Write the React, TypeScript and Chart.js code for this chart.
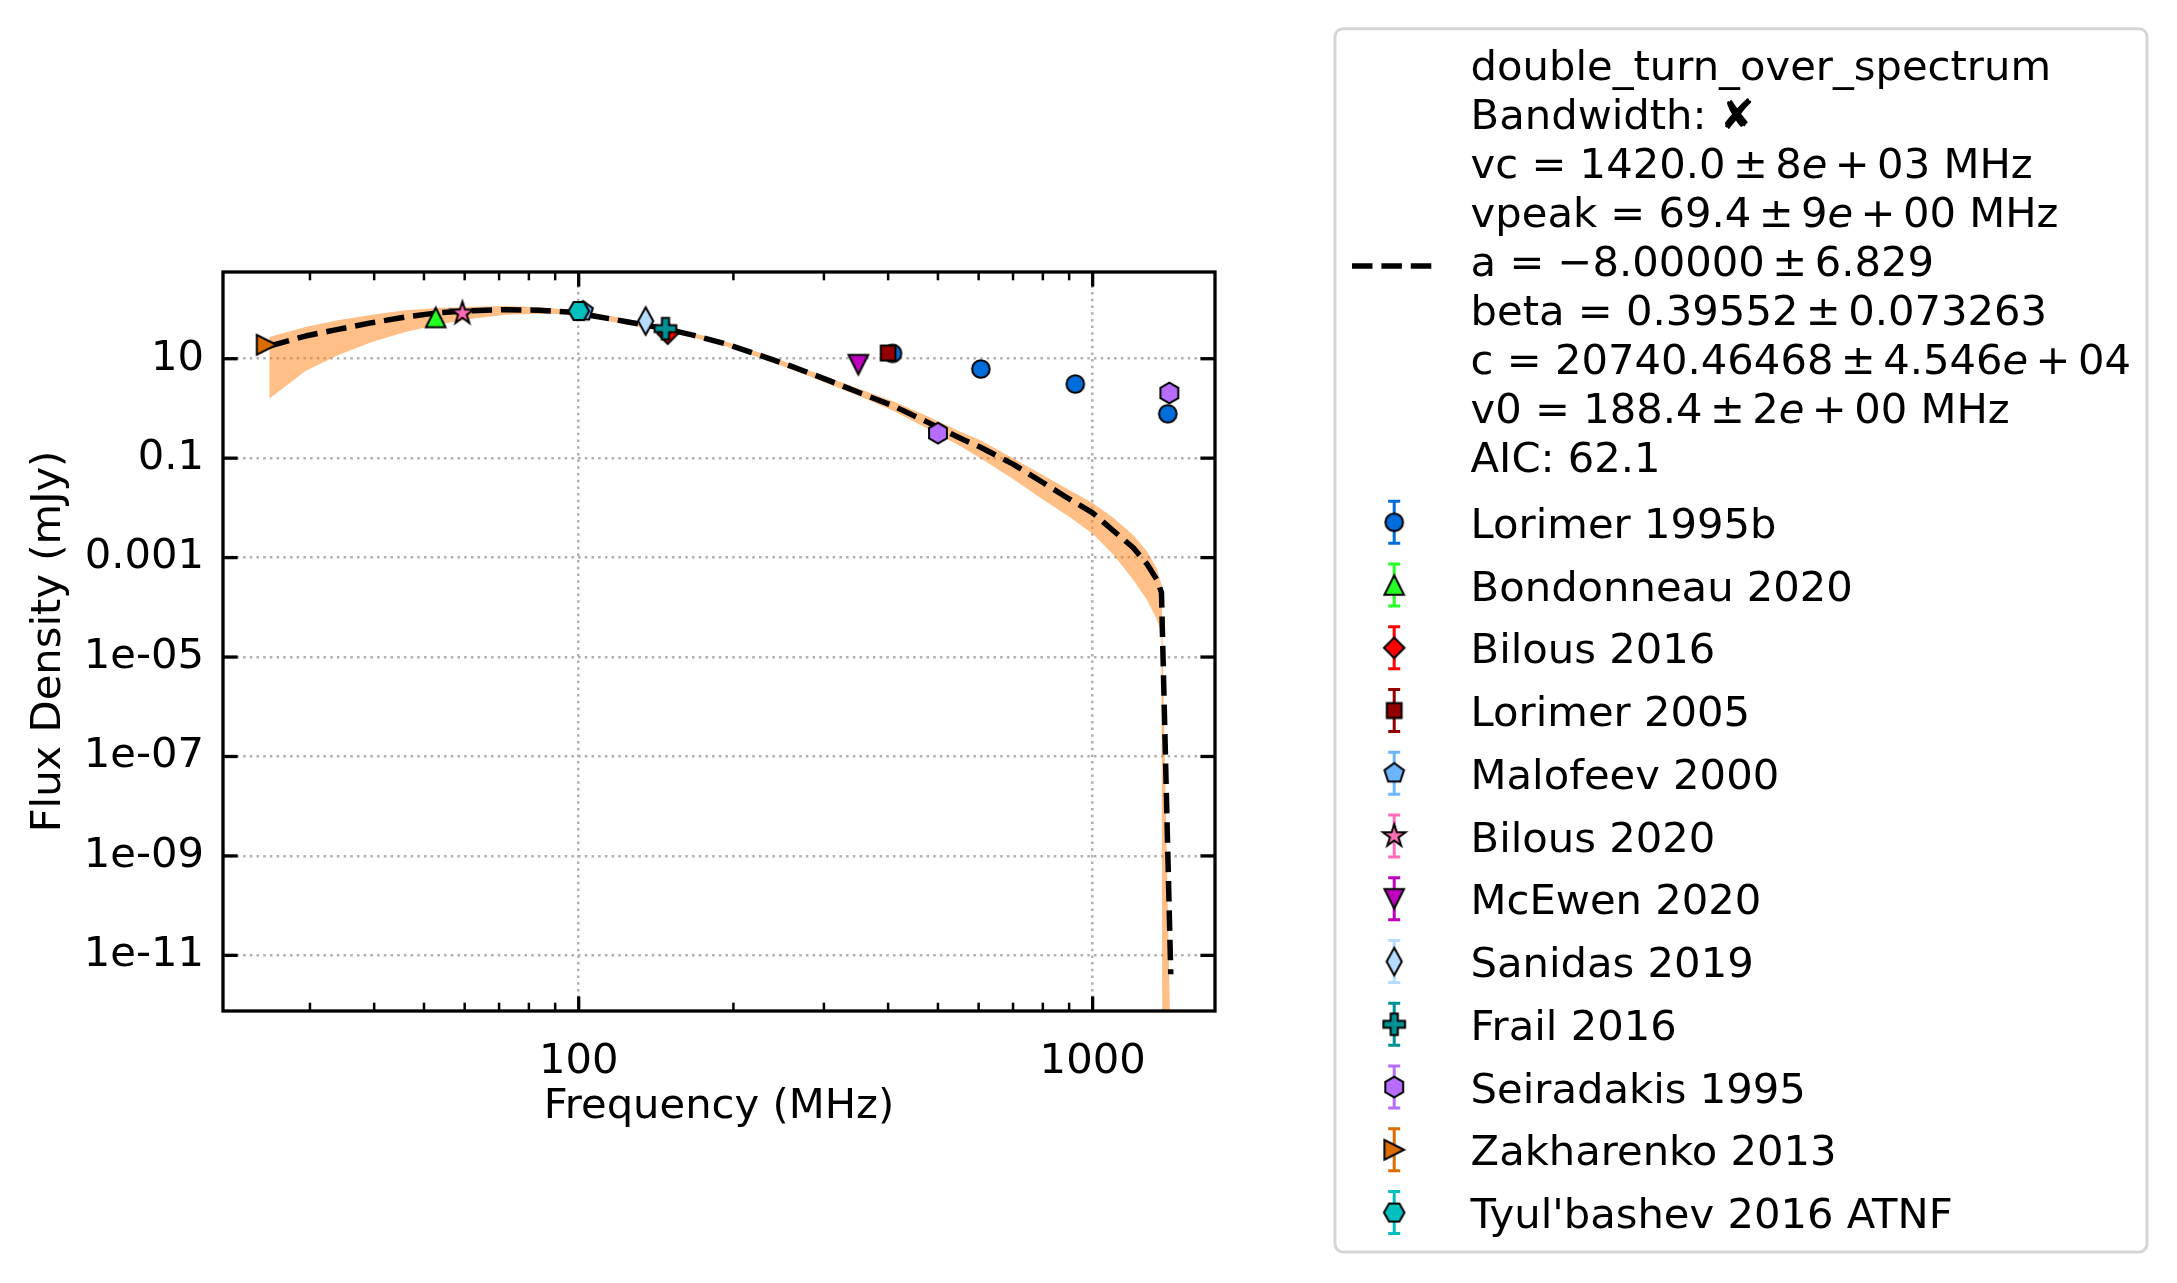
import { useEffect, useRef } from "react";
import { Chart, registerables } from "chart.js";

Chart.register(...registerables);

// ---------------- data ----------------
// fitted model (double_turn_over_spectrum)
const FIT_FREQ = [25, 29.4, 34, 39.6, 46, 53.4, 62, 72, 83.5, 97, 107, 124, 147.5, 167.6, 194.5, 226, 262, 304.5, 353, 410, 476, 553, 605, 700, 800, 900, 1000, 1100, 1200, 1276, 1334, 1361, 1419];
const FIT_FLUX = [18.0, 28.6, 39.0, 53.1, 69.0, 84.3, 92.5, 97.0, 94.4, 86.1, 72.4, 55.6, 39.8, 29.5, 19.5, 11.6, 6.76, 3.76, 2.04, 1.12, 0.537, 0.251, 0.166, 0.0759, 0.0324, 0.0151, 0.00794, 0.00339, 0.00158, 0.000741, 0.000355, 0.0002, 4.17e-12];
const FIT_UPPER = [27.3, 43.5, 59.2, 76.6, 94.0, 104.2, 111.4, 114.8, 108.4, 95.5, 83.2, 63.1, 44.7, 32.7, 21.6, 13.0, 7.59, 4.27, 2.43, 1.38, 0.708, 0.339, 0.229, 0.1, 0.0457, 0.0229, 0.0126, 0.00617, 0.00282, 0.00132, 0.000589, 0.000288, 1e-13];
const FIT_LOWER = [1.57, 5.69, 11.7, 21.7, 34.5, 49.0, 63.8, 76.9, 80.5, 78.2, 64.6, 49.0, 35.5, 26.3, 17.4, 10.2, 5.89, 3.16, 1.74, 0.891, 0.398, 0.174, 0.1, 0.038, 0.0148, 0.00661, 0.00302, 0.00112, 0.000355, 0.000141, 5.62e-5, 3.02e-5, 1e-100];

// measurements (MHz, mJy)
const LORIMER_1995B_FREQ = [408, 606, 925, 1400];
const LORIMER_1995B_FLUX = [12.8, 6.2, 3.1, 0.78];
const BONDONNEAU_2020_FREQ = [52.7];
const BONDONNEAU_2020_FLUX = [67.5];
const BILOUS_2016_FREQ = [149];
const BILOUS_2016_FLUX = [32];
const LORIMER_2005_FREQ = [400];
const LORIMER_2005_FLUX = [13.0];
const MALOFEEV_2000_FREQ = [102];
const MALOFEEV_2000_FLUX = [90];
const BILOUS_2020_FREQ = [59.4];
const BILOUS_2020_FLUX = [81.8];
const MCEWEN_2020_FREQ = [350];
const MCEWEN_2020_FLUX = [7.6];
const SANIDAS_2019_FREQ = [135];
const SANIDAS_2019_FLUX = [57.3];
const FRAIL_2016_FREQ = [147.5];
const FRAIL_2016_FLUX = [40.2];
const SEIRADAKIS_1995_FREQ = [500, 1410];
const SEIRADAKIS_1995_FLUX = [0.318, 2.05];
const ZAKHARENKO_2013_FREQ = [24.7];
const ZAKHARENKO_2013_FLUX = [19.1];
const TYULBASHEV_2016_FREQ = [100];
const TYULBASHEV_2016_FLUX = [91];

const SERIES_NAMES = [
  "Lorimer 1995b", "Bondonneau 2020", "Bilous 2016", "Lorimer 2005", "Malofeev 2000", "Bilous 2020",
  "McEwen 2020", "Sanidas 2019", "Frail 2016", "Seiradakis 1995", "Zakharenko 2013", "Tyul'bashev 2016 ATNF",
];
const SERIES_FREQ = [
  LORIMER_1995B_FREQ, BONDONNEAU_2020_FREQ, BILOUS_2016_FREQ, LORIMER_2005_FREQ, MALOFEEV_2000_FREQ, BILOUS_2020_FREQ,
  MCEWEN_2020_FREQ, SANIDAS_2019_FREQ, FRAIL_2016_FREQ, SEIRADAKIS_1995_FREQ, ZAKHARENKO_2013_FREQ, TYULBASHEV_2016_FREQ,
];
const SERIES_FLUX = [
  LORIMER_1995B_FLUX, BONDONNEAU_2020_FLUX, BILOUS_2016_FLUX, LORIMER_2005_FLUX, MALOFEEV_2000_FLUX, BILOUS_2020_FLUX,
  MCEWEN_2020_FLUX, SANIDAS_2019_FLUX, FRAIL_2016_FLUX, SEIRADAKIS_1995_FLUX, ZAKHARENKO_2013_FLUX, TYULBASHEV_2016_FLUX,
];
const SERIES_COLORS = ["#006ddb", "#24ff24", "#ff0000", "#920000", "#6db6ff", "#ff6db6", "#bf00bf", "#b6dbff", "#009292", "#b66dff", "#db6d00", "#00bfbf"];
const SERIES_MARKERS = ["o", "^", "D", "s", "p", "*", "v", "d", "P", "h", ">", "H"];

// axes
const X_MIN = 20.32;
const X_MAX = 1730;
const Y_MIN = 7.6e-13;
const Y_MAX = 555;
const X_MAJOR = [100, 1000];
const X_TICK_LABELS = ["100", "1000"];
const X_MINOR = [30, 40, 50, 60, 70, 80, 90, 200, 300, 400, 500, 600, 700, 800, 900];
const Y_MAJOR = [10, 0.1, 0.001, 1e-5, 1e-7, 1e-9, 1e-11];
const Y_TICK_LABELS = ["10", "0.1", "0.001", "1e-05", "1e-07", "1e-09", "1e-11"];

type Seg = { t: string; it?: boolean; op?: boolean };
const FIT_LABEL_LINES: Seg[][] = [
  [{ t: "double_turn_over_spectrum" }],
  [{ t: "Bandwidth: \u2718" }],
  [{ t: "vc = 1420.0" }, { t: "\u00b1", op: true }, { t: "8" }, { t: "e", it: true }, { t: "+", op: true }, { t: "03" }, { t: " MHz" }],
  [{ t: "vpeak = 69.4" }, { t: "\u00b1", op: true }, { t: "9" }, { t: "e", it: true }, { t: "+", op: true }, { t: "00" }, { t: " MHz" }],
  [{ t: "a = \u22128.00000" }, { t: "\u00b1", op: true }, { t: "6.829" }],
  [{ t: "beta = 0.39552" }, { t: "\u00b1", op: true }, { t: "0.073263" }],
  [{ t: "c = 20740.46468" }, { t: "\u00b1", op: true }, { t: "4.546" }, { t: "e", it: true }, { t: "+", op: true }, { t: "04" }],
  [{ t: "v0 = 188.4" }, { t: "\u00b1", op: true }, { t: "2" }, { t: "e", it: true }, { t: "+", op: true }, { t: "00" }, { t: " MHz" }],
  [{ t: "AIC: 62.1" }],
];

// ---------------- styling ----------------
const FONT = "'DejaVu Sans', sans-serif";
const FS = 41.7;
const W = 2177;
const H = 1283;

function poly(g: CanvasRenderingContext2D, pts: number[][]) {
  pts.forEach((p, i) => (i === 0 ? g.moveTo(p[0], p[1]) : g.lineTo(p[0], p[1])));
  g.closePath();
}
function regPoly(g: CanvasRenderingContext2D, n: number, r: number, start: number) {
  const pts: number[][] = [];
  for (let i = 0; i < n; i++) {
    const a = start + (i * 2 * Math.PI) / n;
    pts.push([r * Math.cos(a), r * Math.sin(a)]);
  }
  poly(g, pts);
}

function makeMarker(shape: string, fill: string): HTMLCanvasElement {
  const dim = 36;
  const c = document.createElement("canvas");
  c.width = dim;
  c.height = dim;
  const g = c.getContext("2d")!;
  g.translate(dim / 2, dim / 2);
  g.beginPath();
  const t = 9.8;
  switch (shape) {
    case "o":
      g.arc(0, 0, 8.8, 0, Math.PI * 2);
      break;
    case "^":
      poly(g, [[0, -t], [t, t], [-t, t]]);
      break;
    case "v":
      poly(g, [[0, t], [-t, -t], [t, -t]]);
      break;
    case ">":
      poly(g, [[t, 0], [-t, -t], [-t, t]]);
      break;
    case "s":
      poly(g, [[-7.4, -7.4], [7.4, -7.4], [7.4, 7.4], [-7.4, 7.4]]);
      break;
    case "D":
      poly(g, [[0, -10.3], [10.3, 0], [0, 10.3], [-10.3, 0]]);
      break;
    case "d":
      poly(g, [[0, -13.8], [7.6, 0], [0, 13.8], [-7.6, 0]]);
      break;
    case "p":
      regPoly(g, 5, 10.3, -Math.PI / 2);
      break;
    case "h":
      regPoly(g, 6, 10.3, -Math.PI / 2);
      break;
    case "H":
      regPoly(g, 6, 10.3, 0);
      break;
    case "*": {
      const pts: number[][] = [];
      for (let i = 0; i < 10; i++) {
        const r = i % 2 === 0 ? 11.8 : 11.8 * 0.382;
        const a = -Math.PI / 2 + (i * Math.PI) / 5;
        pts.push([r * Math.cos(a), r * Math.sin(a)]);
      }
      poly(g, pts);
      break;
    }
    case "P": {
      const a = 10.8, b = 3.6;
      poly(g, [[-b, -a], [b, -a], [b, -b], [a, -b], [a, b], [b, b], [b, a], [-b, a], [-b, b], [-a, b], [-a, -b], [-b, -b]]);
      break;
    }
  }
  g.fillStyle = fill;
  g.fill();
  g.lineWidth = 2;
  g.lineJoin = "miter";
  g.strokeStyle = "#000";
  g.stroke();
  return c;
}

function roundRect(ctx: CanvasRenderingContext2D, x: number, y: number, w: number, h: number, r: number) {
  ctx.beginPath();
  ctx.moveTo(x + r, y);
  ctx.lineTo(x + w - r, y);
  ctx.arcTo(x + w, y, x + w, y + r, r);
  ctx.lineTo(x + w, y + h - r);
  ctx.arcTo(x + w, y + h, x + w - r, y + h, r);
  ctx.lineTo(x + r, y + h);
  ctx.arcTo(x, y + h, x, y + h - r, r);
  ctx.lineTo(x, y + r);
  ctx.arcTo(x, y, x + r, y, r);
  ctx.closePath();
}

export default function App() {
  const ref = useRef<HTMLCanvasElement>(null);

  useEffect(() => {
    const canvas = ref.current;
    if (!canvas) return;
    const markerImgs = SERIES_MARKERS.map((m, i) => makeMarker(m, SERIES_COLORS[i]));

    const framePlugin = {
      id: "mplFrame",
      afterDatasetsDraw(chart: any) {
        const { ctx, chartArea: a, scales } = chart;
        const xs = scales.x;
        const ys = scales.y;
        ctx.save();
        ctx.strokeStyle = "#000";
        ctx.lineCap = "butt";
        const seg = (x1: number, y1: number, x2: number, y2: number) => {
          ctx.beginPath();
          ctx.moveTo(x1, y1);
          ctx.lineTo(x2, y2);
          ctx.stroke();
        };
        ctx.lineWidth = 2.5;
        X_MINOR.forEach((v) => {
          const p = xs.getPixelForValue(v);
          seg(p, a.bottom, p, a.bottom - 8.3);
          seg(p, a.top, p, a.top + 8.3);
        });
        ctx.lineWidth = 3.3;
        X_MAJOR.forEach((v) => {
          const p = xs.getPixelForValue(v);
          seg(p, a.bottom, p, a.bottom - 14.6);
          seg(p, a.top, p, a.top + 14.6);
        });
        Y_MAJOR.forEach((v) => {
          const p = ys.getPixelForValue(v);
          seg(a.left, p, a.left + 14.6, p);
          seg(a.right, p, a.right - 14.6, p);
        });
        ctx.lineJoin = "miter";
        ctx.strokeRect(a.left, a.top, a.right - a.left, a.bottom - a.top);
        ctx.restore();
      },
    };

    const legendPlugin = {
      id: "mplLegend",
      afterDraw(chart: any) {
        const ctx: CanvasRenderingContext2D = chart.ctx;
        ctx.save();
        roundRect(ctx, 1335, 28.7, 812, 1223.3, 8);
        ctx.fillStyle = "#ffffff";
        ctx.fill();
        ctx.lineWidth = 3;
        ctx.strokeStyle = "#d6d6d6";
        ctx.stroke();

        // fit handle
        ctx.strokeStyle = "#000";
        ctx.lineWidth = 5.5;
        ctx.setLineDash([20.5, 8.9]);
        ctx.beginPath();
        ctx.moveTo(1352, 266);
        ctx.lineTo(1432, 266);
        ctx.stroke();
        ctx.setLineDash([]);

        ctx.fillStyle = "#000";
        ctx.textAlign = "left";
        ctx.textBaseline = "alphabetic";
        const textX = 1470.6;
        const opGap = 7.4;
        FIT_LABEL_LINES.forEach((segs, i) => {
          let x = textX;
          const y = 80.4 + 48.9 * i;
          segs.forEach((s) => {
            ctx.font = `${s.it ? "italic " : ""}${FS}px ${FONT}`;
            if (s.op) x += opGap;
            ctx.fillText(s.t, x, y);
            x += ctx.measureText(s.t).width;
            if (s.op) x += opGap;
          });
        });

        // errorbar entries
        ctx.font = `${FS}px ${FONT}`;
        SERIES_NAMES.forEach((name, i) => {
          const cy = 522.3 + 62.75 * i;
          const hx = 1394.2;
          ctx.strokeStyle = SERIES_COLORS[i];
          ctx.lineWidth = 3;
          ctx.beginPath();
          ctx.moveTo(hx, cy - 21);
          ctx.lineTo(hx, cy + 21);
          ctx.moveTo(hx - 6, cy - 21);
          ctx.lineTo(hx + 6, cy - 21);
          ctx.moveTo(hx - 6, cy + 21);
          ctx.lineTo(hx + 6, cy + 21);
          ctx.stroke();
          const img = markerImgs[i];
          ctx.drawImage(img, hx - img.width / 2, cy - img.height / 2);
          ctx.fillStyle = "#000";
          ctx.fillText(name, textX, cy + 15.5);
        });
        ctx.restore();
      },
    };

    const datasets: any[] = [
      {
        label: "band upper",
        data: FIT_FREQ.map((f, i) => ({ x: f, y: FIT_UPPER[i] })),
        borderColor: "transparent",
        borderWidth: 0,
        pointRadius: 0,
        fill: false,
        tension: 0,
        order: 20,
      },
      {
        label: "band lower",
        data: FIT_FREQ.map((f, i) => ({ x: f, y: FIT_LOWER[i] })),
        borderColor: "transparent",
        borderWidth: 0,
        pointRadius: 0,
        fill: "-1",
        backgroundColor: "rgba(255,127,14,0.5)",
        tension: 0,
        order: 20,
      },
      {
        label: "double_turn_over_spectrum",
        data: FIT_FREQ.map((f, i) => ({ x: f, y: FIT_FLUX[i] })),
        borderColor: "#000",
        borderWidth: 5.5,
        borderDash: [20.5, 8.9],
        borderCapStyle: "butt",
        borderJoinStyle: "round",
        pointRadius: 0,
        fill: false,
        tension: 0,
        order: 10,
      },
      ...SERIES_NAMES.map((name, i) => ({
        label: name,
        data: SERIES_FREQ[i].map((f, j) => ({ x: f, y: SERIES_FLUX[i][j] })),
        showLine: false,
        pointStyle: markerImgs[i],
        pointRadius: 10,
        borderWidth: 0,
        backgroundColor: SERIES_COLORS[i],
        borderColor: SERIES_COLORS[i],
        fill: false,
        order: -i,
        clip: false,
      })),
    ];

    const tickFont = { family: FONT, size: FS, lineHeight: 1.2 };

    const chart = new Chart(canvas, {
      type: "line",
      data: { datasets },
      options: {
        responsive: false,
        maintainAspectRatio: false,
        devicePixelRatio: 1,
        animation: false,
        events: [],
        layout: { padding: { left: 0, top: 272, right: W - 1215, bottom: 0 } },
        plugins: {
          legend: { display: false },
          tooltip: { enabled: false },
          title: { display: false },
        },
        scales: {
          x: {
            type: "logarithmic",
            position: "bottom",
            min: X_MIN,
            max: X_MAX,
            afterBuildTicks: (s: any) => {
              s.ticks = X_MAJOR.map((v) => ({ value: v }));
            },
            afterFit: (s: any) => {
              s.height = H - 1011;
            },
            ticks: {
              autoSkip: false,
              maxRotation: 0,
              minRotation: 0,
              padding: 26,
              color: "#000",
              font: tickFont,
              callback: (_v: any, i: number) => X_TICK_LABELS[i],
            },
            grid: { color: "#b0b0b0", lineWidth: 2.5, drawTicks: false },
            border: { display: false, dash: [2.5, 4.2] },
            title: {
              display: true,
              text: "Frequency (MHz)",
              color: "#000",
              font: tickFont,
              padding: { top: 0, bottom: 151 },
            },
          },
          y: {
            type: "logarithmic",
            position: "left",
            min: Y_MIN,
            max: Y_MAX,
            afterBuildTicks: (s: any) => {
              s.ticks = Y_MAJOR.map((v) => ({ value: v }));
            },
            afterFit: (s: any) => {
              s.width = 223;
            },
            ticks: {
              autoSkip: false,
              padding: 19,
              color: "#000",
              font: tickFont,
              callback: (_v: any, i: number) => Y_TICK_LABELS[i],
            },
            grid: { color: "#b0b0b0", lineWidth: 2.5, drawTicks: false },
            border: { display: false, dash: [2.5, 4.2] },
            title: {
              display: true,
              text: "Flux Density (mJy)",
              color: "#000",
              font: tickFont,
              padding: { top: 24.5, bottom: 0 },
            },
          },
        },
      } as any,
      plugins: [framePlugin, legendPlugin],
    });

    return () => chart.destroy();
  }, []);

  return (
    <div style={{ position: "absolute", left: 0, top: 0, width: W, height: H, overflow: "hidden", background: "#fff" }}>
      <canvas ref={ref} width={W} height={H} style={{ display: "block", width: W, height: H }} />
    </div>
  );
}
